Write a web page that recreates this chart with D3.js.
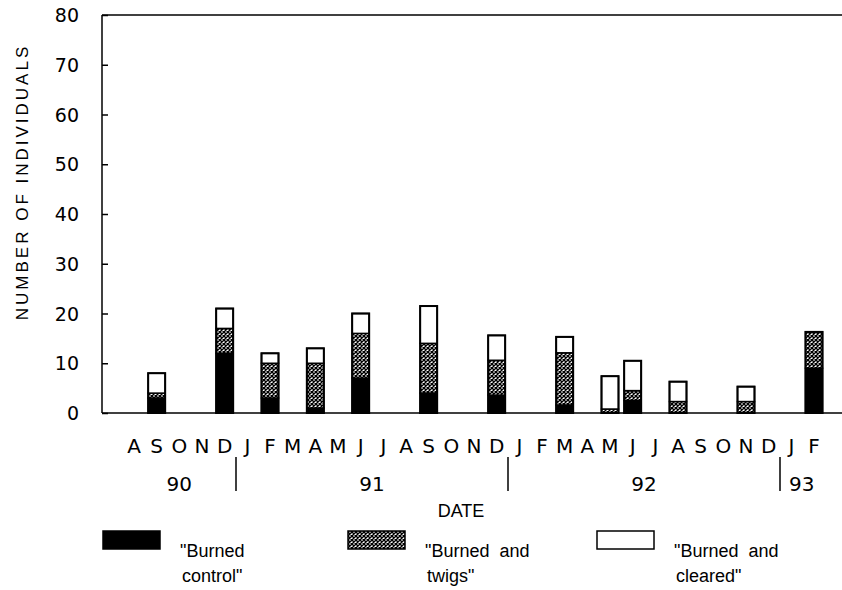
<!DOCTYPE html>
<html>
<head>
<meta charset="utf-8">
<script src="https://d3js.org/d3.v7.min.js"></script>
<style>
    body { margin: 0; background: #fff; }
    text { fill: #000; }
</style>
</head>
<body>
<div id="chart-area"></div>
<script>

// Data
var months = ["A","S","O","N","D","J","F","M","A","M","J","J","A","S","O","N","D",
    "J","F","M","A","M","J","J","A","S","O","N","D","J","F"];
var years = ["90", "91", "92", "93"];
// index of each bar in the months list
var barMonths = [1, 4, 6, 8, 10, 13, 16, 19, 21, 22, 24, 27, 30];
var burnedControl = [3, 12, 3, 1, 7, 4, 3.6, 1.6, 0, 2.5, 0, 0, 9];
var burnedTwigs = [1, 5, 7, 9, 9, 10, 7, 10.5, 0.8, 2, 2.3, 2.3, 7.3];
var burnedCleared = [4, 4, 2, 3, 4, 7.5, 5, 3.2, 6.6, 6, 4, 3, 0];
var yTicks = [0, 10, 20, 30, 40, 50, 60, 70, 80];
var legendLabels = [["\"Burned", "control\""], ["\"Burned  and", "twigs\""], ["\"Burned  and", "cleared\""]];

// Set up SVG
var svg = d3.select("#chart-area").append("svg")
    .attr("width", 842)
    .attr("height", 590);

var x = d3.scalePoint()
    .domain(d3.range(months.length))
    .range([134, 814]);

var y = d3.scaleLinear()
    .domain([0, 80])
    .range([413, 15]);

var barWidth = 17;

// hatch pattern
var defs = svg.append("defs");
var pat = defs.append("pattern")
    .attr("id", "hatch")
    .attr("patternUnits", "userSpaceOnUse")
    .attr("width", 4)
    .attr("height", 4);
pat.append("rect").attr("width", 4).attr("height", 4).attr("fill", "#fff");
pat.append("path")
    .attr("d", "M0,0L4,4M4,0L0,4")
    .attr("stroke", "#000")
    .attr("stroke-width", 1.4);

var fills = ["#000", "url(#hatch)", "#fff"];

// stack the three series
var rows = barMonths.map(function(m, i) {
    return {m: m, control: burnedControl[i], twigs: burnedTwigs[i], cleared: burnedCleared[i]};
});
var stack = d3.stack().keys(["control", "twigs", "cleared"]);
var series = stack(rows);

// Axes lines
svg.append("line")
    .attr("x1", 102).attr("x2", 842)
    .attr("y1", y(80)).attr("y2", y(80))
    .attr("stroke", "#000").attr("stroke-width", 1.5);

svg.append("line")
    .attr("x1", 102).attr("x2", 842)
    .attr("y1", y(0)).attr("y2", y(0))
    .attr("stroke", "#000").attr("stroke-width", 1.5);

var yAxis = d3.axisRight(y)
    .tickValues(yTicks)
    .tickSize(6)
    .tickFormat("");

svg.append("g")
    .attr("transform", "translate(102,0)")
    .call(yAxis)
    .call(function(g) {
        g.selectAll("line, path").attr("stroke", "#000").attr("stroke-width", 1.5);
        g.select(".domain").attr("d", "M0," + y(80) + "V" + y(0));
    });

svg.selectAll(".y-label")
    .data(yTicks)
    .enter()
    .append("text")
    .attr("class", "y-label")
    .attr("x", 79)
    .attr("y", function(d) { return y(d) + 7; })
    .attr("text-anchor", "end")
    .style("font-family", "DejaVu Sans")
    .style("font-size", "19px")
    .text(function(d) { return d; });

svg.append("text")
    .attr("transform", "translate(28,182) rotate(-90)")
    .attr("text-anchor", "middle")
    .style("font-family", "Liberation Sans")
    .style("font-size", "17px")
    .style("letter-spacing", "3px")
    .text("NUMBER  OF  INDIVIDUALS");

// Bars
series.forEach(function(s, k) {
    svg.selectAll(".bar-" + k)
        .data(s.filter(function(d) { return d[1] - d[0] > 0; }))
        .enter()
        .append("rect")
        .attr("class", "bar-" + k)
        .attr("x", function(d) { return x(d.data.m) - barWidth / 2; })
        .attr("y", function(d) { return y(d[1]); })
        .attr("width", barWidth)
        .attr("height", function(d) { return y(d[0]) - y(d[1]); })
        .attr("fill", fills[k])
        .attr("stroke", "#000")
        .attr("stroke-width", 1.5);
});

// outline around whole bar
svg.selectAll(".bar-outline")
    .data(rows)
    .enter()
    .append("rect")
    .attr("class", "bar-outline")
    .attr("x", function(d) { return x(d.m) - barWidth / 2; })
    .attr("y", function(d) { return y(d.control + d.twigs + d.cleared); })
    .attr("width", barWidth)
    .attr("height", function(d) { return y(0) - y(d.control + d.twigs + d.cleared); })
    .attr("fill", "none")
    .attr("stroke", "#000")
    .attr("stroke-width", 2);

// Month letters
svg.selectAll(".month")
    .data(months)
    .enter()
    .append("text")
    .attr("class", "month")
    .attr("x", function(d, i) { return x(i); })
    .attr("y", 453)
    .attr("text-anchor", "middle")
    .style("font-family", "DejaVu Sans")
    .style("font-size", "20px")
    .text(function(d) { return d; });

// Year dividers sit between Dec and Jan
var dividers = [4, 16, 28].map(function(i) { return (x(i) + x(i + 1)) / 2; });
svg.selectAll(".divider")
    .data(dividers)
    .enter()
    .append("line")
    .attr("x1", function(d) { return d; })
    .attr("x2", function(d) { return d; })
    .attr("y1", 457)
    .attr("y2", 491)
    .attr("stroke", "#000")
    .attr("stroke-width", 1.5);

var yearPos = [(x(0) + x(4)) / 2, (x(5) + x(16)) / 2, (x(17) + x(28)) / 2, (x(29) + x(30)) / 2 - 1];
svg.selectAll(".year")
    .data(years)
    .enter()
    .append("text")
    .attr("class", "year")
    .attr("x", function(d, i) { return yearPos[i]; })
    .attr("y", 491)
    .attr("text-anchor", "middle")
    .style("font-family", "DejaVu Sans")
    .style("font-size", "20px")
    .text(function(d) { return d; });

svg.append("text")
    .attr("x", 461)
    .attr("y", 517)
    .attr("text-anchor", "middle")
    .style("font-family", "Liberation Sans")
    .style("font-size", "18px")
    .text("DATE");

// Legend
var legendX = [103, 348, 597];
var legend = svg.selectAll(".legend")
    .data(legendLabels)
    .enter()
    .append("g")
    .attr("class", "legend")
    .attr("transform", function(d, i) { return "translate(" + legendX[i] + ",0)"; });

legend.append("rect")
    .attr("x", 0)
    .attr("y", 531)
    .attr("width", 57)
    .attr("height", 18)
    .attr("fill", function(d, i) { return fills[i]; })
    .attr("stroke", "#000")
    .attr("stroke-width", 1.5);

legend.append("text")
    .attr("x", 77)
    .attr("y", 557)
    .style("font-family", "Liberation Sans")
    .style("font-size", "18px")
    .style("white-space", "pre")
    .text(function(d) { return d[0]; });

legend.append("text")
    .attr("x", 79)
    .attr("y", 582)
    .style("font-family", "Liberation Sans")
    .style("font-size", "18px")
    .text(function(d) { return d[1]; });

</script>
</body>
</html>
